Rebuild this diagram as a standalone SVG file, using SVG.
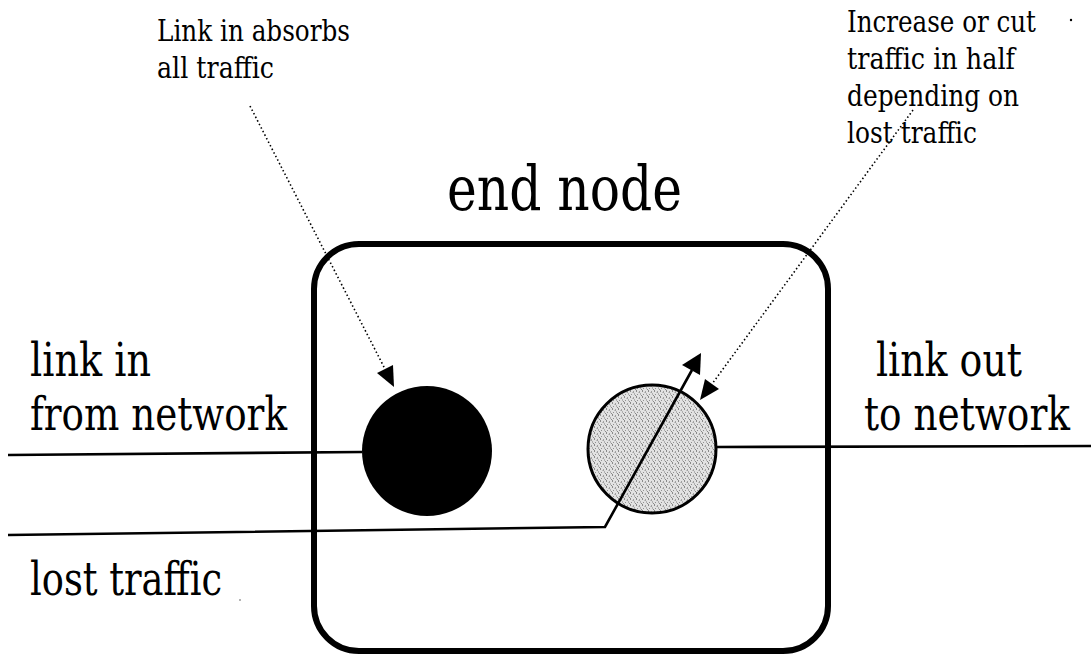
<svg xmlns="http://www.w3.org/2000/svg" width="1091" height="655" viewBox="0 0 1091 655">
<defs>
<pattern id="stipple" width="6" height="6" patternUnits="userSpaceOnUse">
<rect width="6" height="6" fill="#e2e2e2"/>
<rect x="0" y="0" width="1" height="2" fill="#8a8a8a"/>
<rect x="3" y="1" width="1" height="2" fill="#a0a0a0"/>
<rect x="1" y="4" width="1" height="1" fill="#909090"/>
<rect x="4" y="3" width="1" height="2" fill="#b0b0b0"/>
<rect x="5" y="5" width="1" height="1" fill="#888"/>
<rect x="2" y="2" width="1" height="1" fill="#c0c0c0"/>
</pattern>
</defs>
<style>
.note{font-size:30px}
.lbl{font-size:46px}
.title{font-size:62px}
.wire{fill:none;stroke:#000;stroke-width:2.6}
.dot{fill:none;stroke:#000;stroke-width:1.6;stroke-dasharray:1.5 2.5}
.head{fill:#000;stroke:none}
</style>
<rect width="1091" height="655" fill="#fff"/>
<g font-family="DejaVu Serif, Liberation Serif, serif" fill="#000">
<g id="end-node">
<rect x="314" y="244" width="514" height="407" rx="45" ry="45" fill="none" stroke="#000" stroke-width="6"/>
<text class="title" x="447" y="210" textLength="235" lengthAdjust="spacingAndGlyphs">end node</text>
</g>
<g id="absorb-node">
<circle cx="427" cy="451" r="65" fill="#000"/>
</g>
<g id="sender-node">
<circle cx="652" cy="449" r="64" fill="url(#stipple)" stroke="#000" stroke-width="3"/>
</g>
<g id="labels">
<text class="lbl" x="30" y="376" textLength="121" lengthAdjust="spacingAndGlyphs">link in</text>
<text class="lbl" x="30" y="430" textLength="257" lengthAdjust="spacingAndGlyphs">from network</text>
<text class="lbl" x="876" y="376" textLength="146" lengthAdjust="spacingAndGlyphs">link out</text>
<text class="lbl" x="1070" y="430" text-anchor="end" textLength="206" lengthAdjust="spacingAndGlyphs">to network</text>
<text class="lbl" x="30" y="595" textLength="192" lengthAdjust="spacingAndGlyphs">lost traffic</text>
</g>
<g id="note-absorb">
<text class="note" x="157" y="41" textLength="193" lengthAdjust="spacingAndGlyphs">Link in absorbs</text>
<text class="note" x="157" y="78" textLength="117" lengthAdjust="spacingAndGlyphs">all traffic</text>
</g>
<g id="note-adjust">
<text class="note" x="847" y="32" textLength="189" lengthAdjust="spacingAndGlyphs">Increase or cut</text>
<text class="note" x="847" y="69" textLength="168" lengthAdjust="spacingAndGlyphs">traffic in half</text>
<text class="note" x="847" y="106" textLength="172" lengthAdjust="spacingAndGlyphs">depending on</text>
<text class="note" x="847" y="143" textLength="130" lengthAdjust="spacingAndGlyphs">lost traffic</text>
</g>
</g>
<g id="connectors">
<polyline class="wire" points="8,455 362,452"/>
<polyline class="wire" points="716,447 1091,446"/>
<polyline class="wire" points="8,535 605,527 692,370"/>
<polygon class="head" points="701,353 700,375 682,365"/>
<line class="dot" x1="250" y1="106" x2="385" y2="369"/>
<polygon class="head" points="394,387 393,365 377,373"/>
<line class="dot" x1="913" y1="110" x2="712" y2="384"/>
<polygon class="head" points="700,400 719,389 705,379"/>
</g>
<circle cx="1071" cy="20" r="1.2" fill="#000"/>
<circle cx="240" cy="600" r="0.8" fill="#555"/>
</svg>
